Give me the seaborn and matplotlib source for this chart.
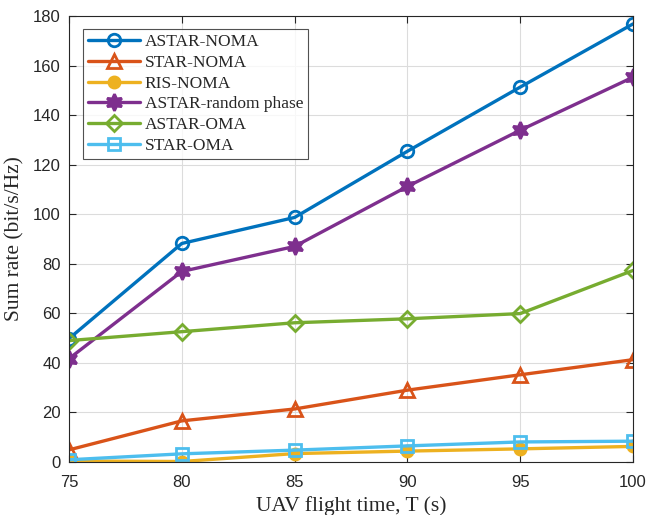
import numpy as np
import pandas as pd
import matplotlib
matplotlib.use("Agg")
import matplotlib.pyplot as plt
import seaborn as sns

# flight time (s)
flight_time = [75, 80, 85, 90, 95, 100]

# sum rate (bit/s/Hz)
astar_noma = [49.8, 88.2, 98.7, 125.4, 151.3, 176.8]
star_noma = [4.9, 16.6, 21.4, 29.0, 35.2, 41.3]
ris_noma = [0.4, 0.2, 3.4, 4.4, 5.3, 6.3]
astar_random = [41.7, 76.9, 87.0, 111.2, 133.9, 155.3]
astar_oma = [49.0, 52.6, 56.2, 57.8, 59.9, 77.3]
star_oma = [0.9, 3.3, 4.8, 6.5, 8.1, 8.4]

names = ["ASTAR-NOMA", "STAR-NOMA", "RIS-NOMA", "ASTAR-random phase",
         "ASTAR-OMA", "STAR-OMA"]
series = [astar_noma, star_noma, ris_noma, astar_random, astar_oma, star_oma]

# MATLAB default colour order
colors = ["#0072BD", "#D95319", "#EDB120", "#7E2F8E", "#77AC30", "#4DBEEE"]
markers = ["o", "^", "o", (6, 1, 0), "D", "s"]
filled = [False, False, True, True, False, False]
msizes = [9, 10, 8, 12, 8, 8]

sns.set_style("ticks")
plt.rcParams["font.family"] = ["Liberation Serif", "DejaVu Serif"]

fig = plt.figure(figsize=(6.49, 5.15), dpi=100)
ax = fig.add_axes([0.1063, 0.1029, 0.869, 0.866])

for name, vals, c, m, f, ms in zip(names, series, colors, markers, filled, msizes):
    df = pd.DataFrame({"T": flight_time, "rate": vals})
    sns.lineplot(data=df, x="T", y="rate", ax=ax, color=c, linewidth=2.4,
                 marker=m, markersize=ms, markeredgewidth=2,
                 markerfacecolor=c if f else "none", markeredgecolor=c,
                 label=name)

ax.set_xlim(75, 100)
ax.set_ylim(0, 180)
ax.set_xticks([75, 80, 85, 90, 95, 100])
ax.set_yticks(np.arange(0, 181, 20))
ax.grid(True, color="#dcdcdc", linewidth=0.8)
ax.set_axisbelow(True)
for s in ax.spines.values():
    s.set_visible(True)
    s.set_color("#262626")
    s.set_linewidth(0.8)
ax.tick_params(direction="in", top=True, right=True, length=5,
               color="#262626", labelcolor="#262626")
ax.tick_params(axis="x", pad=9)
ax.tick_params(axis="y", pad=6)
# tick labels are sans-serif in the reference, axis labels serif
for lab in ax.get_xticklabels() + ax.get_yticklabels():
    lab.set_fontfamily(["Liberation Sans", "DejaVu Sans"])
    lab.set_fontsize(12)
ax.set_xlabel("UAV flight time, T (s)", fontsize=15.5, labelpad=5)
ax.set_ylabel("Sum rate (bit/s/Hz)", fontsize=15.5, labelpad=6)

leg = ax.legend(loc="upper left", fontsize=12.5, frameon=True, fancybox=False,
                edgecolor="#262626", handlelength=3.0, borderpad=0.3,
                labelspacing=0.26, handletextpad=0.25, borderaxespad=0,
                bbox_to_anchor=(0.025, 0.971))
leg.get_frame().set_linewidth(0.8)

fig.savefig("out.png", dpi=100)
